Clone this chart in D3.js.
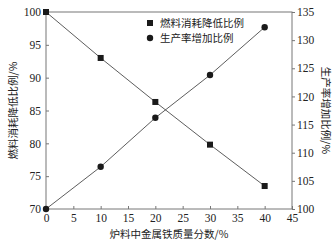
<html>
<script src="https://d3js.org/d3.v7.min.js"></script>
<style>
  body { margin: 0; background: #fff; }
  text { fill: #222; }
  .num { font-family: "Liberation Serif", "DejaVu Serif", serif; font-size: 11.5px; }
  .cn { font-family: "Noto Sans CJK SC", sans-serif; font-size: 10.5px; }
</style>
<body>
<svg id="chart" width="336" height="243"></svg>
<script>
// data
var ironShare = [0, 10, 20, 30, 40];
var fuelDrop = [100, 93.0, 86.3, 79.8, 73.5];
var prodRise = [100, 107.5, 116.2, 123.8, 132.3];
var xTicks = [0, 5, 10, 15, 20, 25, 30, 35, 40, 45];
var yLeftTicks = [70, 75, 80, 85, 90, 95, 100];
var yRightTicks = [100, 105, 110, 115, 120, 125, 130, 135];

var svg = d3.select("#chart");
var L = 46, R = 292, T = 12, B = 209;
var x = d3.scaleLinear().domain([0, 45]).range([L, R]);
var yl = d3.scaleLinear().domain([70, 100]).range([B, T]);
var yr = d3.scaleLinear().domain([100, 135]).range([B, T]);

svg.append("rect").attr("x", L).attr("y", T).attr("width", R - L).attr("height", B - T)
  .attr("fill", "none").attr("stroke", "#777").attr("stroke-width", 1);

function styleAxis(g) {
  g.select(".domain").remove();
  g.selectAll("line").attr("stroke", "#777");
  g.selectAll("text").attr("class", "num").attr("fill", "#222");
}

svg.append("g").attr("transform", "translate(0," + B + ")")
  .call(d3.axisBottom(x).tickValues(xTicks).tickSizeInner(-3).tickPadding(5).tickFormat(d3.format("d")))
  .call(styleAxis);
svg.append("g").attr("transform", "translate(" + L + ",0)")
  .call(d3.axisLeft(yl).tickValues(yLeftTicks).tickSizeInner(-3).tickPadding(5).tickFormat(d3.format("d")))
  .call(styleAxis);
svg.append("g").attr("transform", "translate(" + R + ",0)")
  .call(d3.axisRight(yr).tickValues(yRightTicks).tickSizeInner(3).tickPadding(2).tickFormat(d3.format("d")))
  .call(styleAxis);

var fuel = ironShare.map(function(d, i) { return [d, fuelDrop[i]]; });
var prod = ironShare.map(function(d, i) { return [d, prodRise[i]]; });

svg.append("path").attr("d", d3.line().x(function(d) { return x(d[0]); }).y(function(d) { return yl(d[1]); })(fuel))
  .attr("fill", "none").attr("stroke", "#333").attr("stroke-width", 0.8);
svg.append("path").attr("d", d3.line().x(function(d) { return x(d[0]); }).y(function(d) { return yr(d[1]); })(prod))
  .attr("fill", "none").attr("stroke", "#333").attr("stroke-width", 0.8);

svg.selectAll(".sq").data(fuel).enter().append("rect")
  .attr("x", function(d) { return x(d[0]) - 3; }).attr("y", function(d) { return yl(d[1]) - 3; })
  .attr("width", 6).attr("height", 6).attr("fill", "#1a1a1a");
svg.selectAll(".ci").data(prod).enter().append("circle")
  .attr("cx", function(d) { return x(d[0]); }).attr("cy", function(d) { return yr(d[1]); })
  .attr("r", 3.2).attr("fill", "#1a1a1a");

// legend
svg.append("rect").attr("x", 147).attr("y", 20).attr("width", 6).attr("height", 6).attr("fill", "#1a1a1a");
svg.append("text").attr("class", "cn").attr("x", 160).attr("y", 27).text("燃料消耗降低比例");
svg.append("circle").attr("cx", 150).attr("cy", 38).attr("r", 3.2).attr("fill", "#1a1a1a");
svg.append("text").attr("class", "cn").attr("x", 160).attr("y", 42).text("生产率增加比例");

// axis titles
svg.append("text").attr("class", "cn").attr("text-anchor", "middle")
  .attr("x", (L + R) / 2).attr("y", 238).text("炉料中金属铁质量分数/%");
svg.append("text").attr("class", "cn").attr("text-anchor", "middle")
  .attr("transform", "translate(17," + ((T + B) / 2) + ") rotate(-90)").text("燃料消耗降低比例/%");
svg.append("text").attr("class", "cn").attr("text-anchor", "middle")
  .attr("transform", "translate(322," + ((T + B) / 2) + ") rotate(90)").text("生产率增加比例/%");
</script>
</body>
</html>
